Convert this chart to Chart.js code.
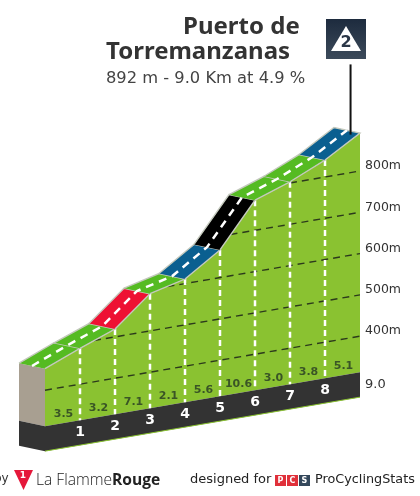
<!DOCTYPE html>
<html>
<head>
<meta charset="utf-8">
<script src="https://cdn.jsdelivr.net/npm/chart.js@4"></script>
<style>
html,body{margin:0;padding:0;background:#fff;}
#wrap{position:relative;width:420px;height:496px;overflow:hidden;}
#wrap canvas{position:absolute;left:0;top:0;}
.t{position:absolute;white-space:nowrap;}
#t1,#t2{font:bold 24px "Noto Sans";color:#333;line-height:26px;}
#t1{left:183px;top:12px;}
#t2{left:106px;top:37px;}
#t3{left:106px;top:68px;font:16.3px "DejaVu Sans";color:#444;line-height:20px;}
#sign{position:absolute;left:326px;top:19px;width:40px;height:40px;background:linear-gradient(#1d2b3e,#3c4a5a);}
#tri{position:absolute;left:5px;top:7px;width:30px;height:25px;background:#fff;clip-path:polygon(50% 0,100% 100%,0 100%);}
#two{position:absolute;left:0;top:14px;width:40px;text-align:center;font:bold 16px "DejaVu Sans";color:#2a3647;line-height:18px;}
#f0{left:-6px;top:471px;font:12px "DejaVu Sans";color:#333;}
#flag{position:absolute;left:14px;top:470px;width:19px;height:20px;background:#e5173a;clip-path:polygon(0 0,100% 0,50% 100%);}
#flagn{left:18px;top:470px;width:10px;text-align:center;font:bold 9px "DejaVu Sans";color:#fff;}
#f1{left:36px;top:467px;font:300 15.6px "Open Sans";color:#222;line-height:24px;}
#f1 b{font-weight:700;}
#f2{left:190px;top:471px;font:13px "DejaVu Sans";color:#222;line-height:16px;}
.pc{position:absolute;top:475px;width:11px;height:11px;color:#fff;font:bold 8px "DejaVu Sans";text-align:center;line-height:11px;}
#f3{left:315px;top:471px;font:12.8px "DejaVu Sans";color:#222;line-height:16px;}
</style>
</head>
<body>
<div id="wrap">
<canvas id="profile" width="420" height="496"></canvas>
<div class="t" id="t1">Puerto de</div>
<div class="t" id="t2">Torremanzanas</div>
<div class="t" id="t3">892 m - 9.0 Km at 4.9 %</div>
<div id="sign"><div id="tri"></div><div id="two">2</div></div>
<div class="t" id="f0">by</div>
<div id="flag"></div><div class="t" id="flagn">1</div>
<div class="t" id="f1">La Flamme<b>Rouge</b></div>
<div class="t" id="f2">designed for</div>
<div class="pc" style="left:275px;background:#e0303a">P</div>
<div class="pc" style="left:287px;background:#e0303a">C</div>
<div class="pc" style="left:299px;background:#33475b">S</div>
<div class="t" id="f3">ProCyclingStats</div>
</div>
<script>
// profile data
const km_marks   = [0, 1, 2, 3, 4, 5, 6, 7, 8, 9];
const altitudes  = [452, 487, 519, 590, 611, 667, 773, 803, 841, 892];
const gradients  = [3.5, 3.2, 7.1, 2.1, 5.6, 10.6, 3.0, 3.8, 5.1];
const km_labels  = ["1", "2", "3", "4", "5", "6", "7", "8"];
const alt_ticks  = [400, 500, 600, 700, 800];
const grid_start = [0, 1.4, 3.5, 5.3, 7.0];   // km where each altitude line meets the road

// fake 3d projection
const PX_KM  = 35;
const PX_M   = 0.413;
const SKEW   = 6 / PX_M;       // baseline climbs 6px every km
const BASE   = 313;            // altitude of the baseline at km 9
const DEPTH_X = -26 / PX_KM;
const DEPTH_Y = 5.5 / PX_M;
const BAND   = 25 / PX_M;

function proj(km, alt){
    return {x: km, y: alt + (km - 9) * SKEW};
}
function ground(km){
    return proj(km, BASE);
}
function back(p, f){
    return {x: p.x + DEPTH_X * f, y: p.y + DEPTH_Y * f};
}
function grade_color(g){
    if (g >= 9) return "#000000";
    if (g >= 6.5) return "#ee1133";
    if (g >= 4.5) return "#0a5f90";
    return "#55bb22";
}

const last = km_marks.length - 1;
const datasets = [];
function poly(points, fill, line, width){
    datasets.push({
        data: points, showLine: true, pointRadius: 0, fill: "shape", tension: 0,
        backgroundColor: fill, borderColor: line || fill, borderWidth: width === undefined ? 0 : width,
        clip: false
    });
}
function dash(points, color, width, pattern){
    datasets.push({
        data: points, showLine: true, pointRadius: 0, fill: false, tension: 0,
        borderColor: color, borderWidth: width, borderDash: pattern, clip: false
    });
}

// body
const top_edge = km_marks.map((k, i) => proj(k, altitudes[i]));
poly(top_edge.concat([ground(km_marks[last]), ground(km_marks[0])]), "#8ac231");
// front face
const p0 = top_edge[0];
poly([back(p0, 1), p0, ground(0), back(ground(0), 1)], "#a89f91");
// dark band
const band = (p) => ({x: p.x, y: p.y - BAND});
poly([ground(0), ground(9), band(ground(9)), band(ground(0))], "#333333");
poly([back(ground(0), 1), ground(0), band(ground(0)), back(band(ground(0)), 1)], "#333333");
dash([band(ground(0)), band(ground(9))], "#8ac231", 1, []);
// altitude lines
alt_ticks.forEach((a, i) => {
    dash([proj(grid_start[i], a), proj(9, a)], "#2c3a1c", 1.4, [7, 5]);
});
// km lines
km_labels.forEach((l, i) => {
    const k = Number(l);
    dash([top_edge[k], ground(k)], "#ffffff", 2.5, [6, 4]);
});
// road
gradients.forEach((g, i) => {
    const a = top_edge[i], b = top_edge[i + 1];
    poly([a, b, back(b, 1), back(a, 1)], grade_color(g), "#c4c9bd", 1.4);
});
dash(top_edge.map(p => back(p, 0.5)), "#ffffff", 2.5, [8, 6]);
// pole of the sign
dash([proj(8.73, 892), proj(8.73, 1062)], "#111111", 2, []);

datasets.reverse();

const text_plugin = {
    id: "text_plugin",
    afterDatasetsDraw(chart){
        const ctx = chart.ctx, xs = chart.scales.x, ys = chart.scales.y;
        ctx.save();
        ctx.textAlign = "center";
        ctx.textBaseline = "middle";
        // grade per km above the baseline
        ctx.font = "bold 11px 'DejaVu Sans'";
        ctx.fillStyle = "#3a5526";
        gradients.forEach((g, i) => {
            const p = ground(i + 0.5);
            ctx.fillText(g.toFixed(1), xs.getPixelForValue(p.x) + 1, ys.getPixelForValue(p.y) - 9);
        });
        // km numbers in the band
        ctx.font = "bold 14px 'DejaVu Sans'";
        ctx.fillStyle = "#ffffff";
        km_labels.forEach(l => {
            const p = ground(Number(l));
            ctx.fillText(l, xs.getPixelForValue(p.x), ys.getPixelForValue(p.y) + 12);
        });
        // altitude labels at the right end of each line, a little above it
        ctx.textAlign = "left";
        ctx.font = "12.5px 'DejaVu Sans'";
        ctx.fillStyle = "#333333";
        alt_ticks.forEach(a => {
            const p = proj(9, a);
            ctx.fillText(a + "m", xs.getPixelForValue(9) + 5, ys.getPixelForValue(p.y) - 5);
        });
        // total distance at the right end
        ctx.font = "13px 'DejaVu Sans'";
        const e = ground(9);
        ctx.fillText("9.0", xs.getPixelForValue(9) + 5, ys.getPixelForValue(e.y) + 12);
        ctx.restore();
    }
};

new Chart(document.getElementById("profile"), {
    type: "scatter",
    data: {datasets: datasets},
    plugins: [text_plugin],
    options: {
        responsive: false,
        animation: false,
        layout: {padding: 0},
        plugins: {legend: {display: false}, title: {display: false}, tooltip: {enabled: false}},
        scales: {
            x: {type: "linear", display: false, min: -45 / PX_KM, max: 375 / PX_KM},
            y: {
                type: "linear",
                display: false,
                min: 892 - (496 - 133) / PX_M,
                max: 892 + 133 / PX_M
            }
        }
    }
});
</script>
</body>
</html>
